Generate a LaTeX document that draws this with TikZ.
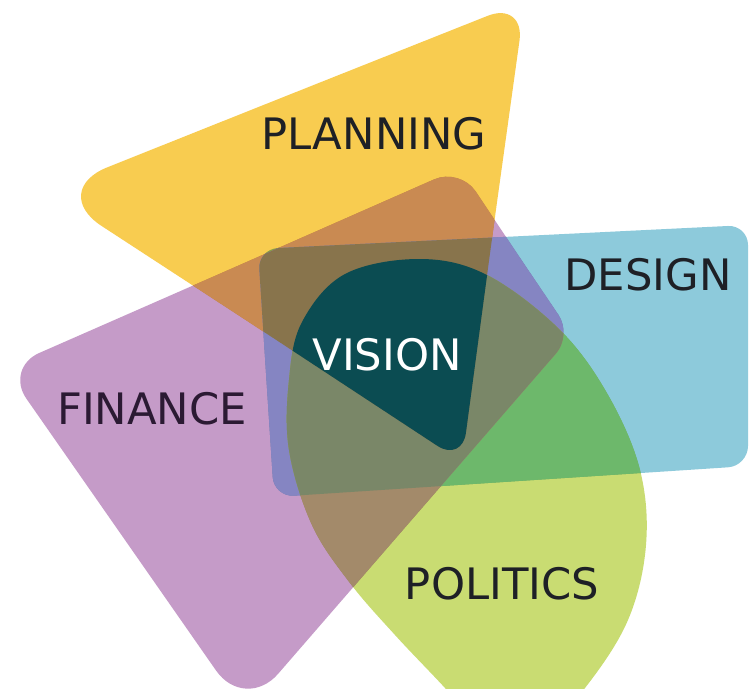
\documentclass[tikz,border=0pt]{standalone}
\usepackage{fontspec}
\setmainfont{DejaVu Sans}
\definecolor{cYellow}{HTML}{F8CC50}
\definecolor{cPurple}{HTML}{C59BC8}
\definecolor{cBlue}{HTML}{8DCADB}
\definecolor{cLime}{HTML}{C9DC72}
\definecolor{cYP}{HTML}{C98A52}
\definecolor{cPB}{HTML}{8585C2}
\definecolor{cBL}{HTML}{6DB86B}
\definecolor{cPL}{HTML}{A38A6A}
\definecolor{cPBL}{HTML}{7A8768}
\definecolor{cYPB}{HTML}{88744C}
\definecolor{cTeal}{HTML}{0B4C52}
\definecolor{cText}{HTML}{1E2026}
\definecolor{cTextF}{HTML}{2B1A33}
\newcommand\shYellow[1]{\path[#1] (286,96) [rounded corners=30pt] -- (525,1) -- (493,231) [rounded corners=22pt] -- (462,462) -- (255,326) [rounded corners=48pt] -- (48,191) -- cycle;}
\newcommand\shPurple[1]{\path[#1] (233,268) [rounded corners=21pt] -- (460,168) -- (516,252) [rounded corners=18pt] -- (572,335) -- (408,524) [rounded corners=38pt] -- (245,712) -- (125,540) [rounded corners=28pt] -- (5,368) -- cycle;}
\newcommand\shBlue[1]{\path[#1] [rounded corners=15pt] (258,249) -- (748,225) -- (748,466) -- (274,497) -- cycle;}
\newcommand\shLime[1]{\path[#1] plot[smooth cycle, tension=0.6] coordinates {(345,274) (420,259) (487,275) (560,330) (608,395) (640,470) (646,545) (628,620) (585,688) (535,740) (480,728) (445,688) (395,635) (350,583) (312,525) (289,450) (289,380) (302,322)};}
\begin{document}
\begin{tikzpicture}[x=0.75pt,y=-0.75pt,
  lbl/.style={inner sep=0pt, font=\fontsize{32.5}{36}\selectfont}]
\useasboundingbox (0,0) rectangle (750,689);
\clip (0,0) rectangle (750,689);
\fill[white] (0,0) rectangle (750,689);
\begin{scope}[blend mode=multiply]
  \shYellow{fill=cYellow}
  \shPurple{fill=cPurple}
  \shBlue{fill=cBlue}
  \shLime{fill=cLime}
\end{scope}
\begin{scope}\shYellow{clip}\shPurple{fill=cYP}\end{scope}
\begin{scope}\shPurple{clip}\shBlue{fill=cPB}\end{scope}
\begin{scope}\shBlue{clip}\shLime{fill=cBL}\end{scope}
\begin{scope}\shPurple{clip}\shLime{fill=cPL}\end{scope}
\begin{scope}\shPurple{clip}\shBlue{clip}\shLime{fill=cPBL}\end{scope}
\begin{scope}\shYellow{clip}\shPurple{clip}\shBlue{fill=cYPB}\end{scope}
\begin{scope}\shYellow{clip}\shPurple{clip}\shBlue{clip}\shLime{fill=cTeal}\end{scope}
\node[lbl, text=cText] (planning) at (374,134) {PLANNING};
\node[lbl, text=cText] (design) at (648,275) {DESIGN};
\node[lbl, text=cTextF] (finance) at (152,409) {FINANCE};
\node[lbl, text=white] (vision) at (387,355) {VISION};
\node[lbl, text=cText] (politics) at (502,584) {POLITICS};
\end{tikzpicture}
\end{document}
